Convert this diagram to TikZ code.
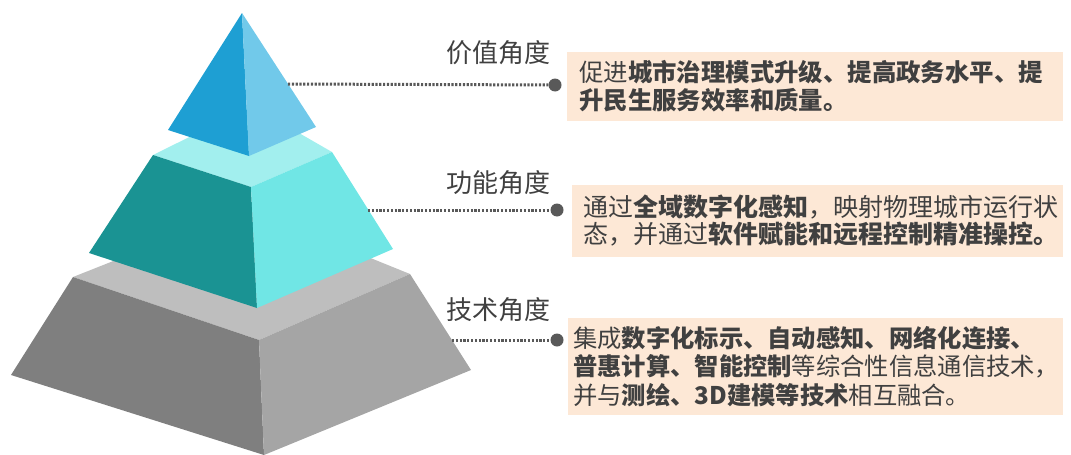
\documentclass[tikz,border=0pt]{standalone}
\usepackage{fontspec}
\setmainfont{Noto Sans CJK SC}
\usetikzlibrary{positioning}
\usepackage{xcolor}

\definecolor{topL}{HTML}{1E9FD3}
\definecolor{topR}{HTML}{71C9EA}
\definecolor{midL}{HTML}{1A9393}
\definecolor{midR}{HTML}{70E6E5}
\definecolor{midT}{HTML}{A2EFEE}
\definecolor{botL}{HTML}{7F7F7F}
\definecolor{botR}{HTML}{A5A5A5}
\definecolor{botT}{HTML}{BEBEBE}
\definecolor{peach}{HTML}{FDE8D6}
\definecolor{txt}{HTML}{404040}
\definecolor{lead}{HTML}{595959}

\begin{document}
\begin{tikzpicture} [x=1pt, y=-1pt,
        heading/.style = {anchor=east, text=txt, inner sep=0, font=\fontsize{26}{30}\selectfont},
        bullet/.style = {circle, fill=lead, inner sep=0, minimum size=13pt},
        link/.style = {lead, line width=3pt, dash pattern=on 2.2pt off 1.6pt},
        box/.style = {anchor=west, fill=peach, text=txt, align=left, inner xsep=12pt, inner ysep=0pt}]
        \useasboundingbox (0,0) rectangle (1071,455);

        %Pyramide unten
        \fill[botT] (73,277) -- (247,208) -- (410,274) -- (259,340) -- cycle;
        \fill[botL] (73,277) -- (259,340) -- (264,455) -- (11,375) -- cycle;
        \fill[botR] (259,340) -- (410,274) -- (471,370) -- (264,455) -- cycle;

        %Pyramide Mitte
        \fill[midT] (153,155) -- (252,106) -- (332,152) -- (251,187) -- cycle;
        \fill[midL] (153,155) -- (251,187) -- (257,308) -- (89,253) -- cycle;
        \fill[midR] (251,187) -- (332,152) -- (393,249) -- (257,308) -- cycle;

        %Pyramide oben
        \fill[topL] (242,13) -- (168,130) -- (249,156) -- cycle;
        \fill[topR] (242,13) -- (249,156) -- (316,127) -- cycle;

        %Knoten
        \coordinate (e1) at (288,84);
        \coordinate (e2) at (368,210);
        \coordinate (e3) at (452,340);

        \node[bullet] (d1) at (555,85) {};
        \node[bullet] (d2) at (557,210) {};
        \node[bullet] (d3) at (557,340) {};

        \node[heading] (h1) at (551,53) {价值角度};
        \node[heading] (h2) at (551,183) {功能角度};
        \node[heading] (h3) at (551,310) {技术角度};

        \node[box, text width=472pt, minimum height=69pt, font=\fontsize{24.4}{28}\selectfont] (b1) at (567,86.5)
            {促进\textbf{城市治理模式升级、提高政务水平、提}\\\textbf{升民生服务效率和质量。}};
        \node[box, text width=469pt, inner xsep=11pt, minimum height=72pt, font=\fontsize{25}{27}\selectfont] (b2) at (572,221)
            {通过\textbf{全域数字化感知}，映射物理城市运行状\\态，并通过\textbf{软件赋能和远程控制精准操控。}};
        \node[box, text width=485pt, inner xsep=5pt, minimum height=97pt, font=\fontsize{24.3}{28.5}\selectfont] (b3) at (568,366.5)
            {集成\textbf{数字化标示、自动感知、网络化连接、}\\\textbf{普惠计算、智能控制}等综合性信息通信技术，\\并与\textbf{测绘、3D建模等技术}相互融合。};

        %Kanten
        \draw[link] (e1) -- (d1);
        \draw[link] (e2) -- (d2);
        \draw[link] (e3) -- (d3);

    \end{tikzpicture}
\end{document}
